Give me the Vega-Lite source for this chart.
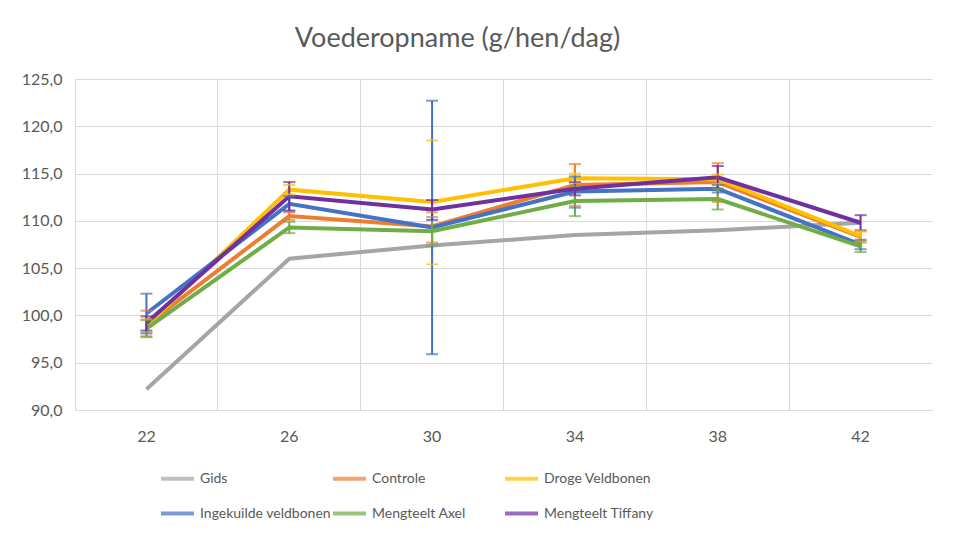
{
  "$schema": "https://vega.github.io/schema/vega-lite/v6.json",
  "width": 857,
  "height": 331,
  "autosize": "none",
  "padding": {"left": 75, "top": 79, "right": 24, "bottom": 131},
  "background": "white",
  "config": {
    "font": "Lato",
    "view": {"stroke": null},
    "axis": {"labelColor": "#595959", "labelFontSize": 16, "gridColor": "#D9D9D9", "domainColor": "#D9D9D9", "ticks": false}
  },
  "title": {
    "text": "Voederopname (g/hen/dag)",
    "fontSize": 27,
    "fontWeight": "normal",
    "color": "#595959",
    "frame": "group",
    "anchor": "middle",
    "dx": -46,
    "offset": 18
  },
  "data": {
    "values": [
      {"week": 22, "serie": "Gids", "v": 92.2},
      {"week": 26, "serie": "Gids", "v": 106.0},
      {"week": 30, "serie": "Gids", "v": 107.4},
      {"week": 34, "serie": "Gids", "v": 108.5},
      {"week": 38, "serie": "Gids", "v": 109.0},
      {"week": 42, "serie": "Gids", "v": 109.8},
      {"week": 22, "serie": "Controle", "v": 99.0, "lo": 97.8, "hi": 100.5},
      {"week": 26, "serie": "Controle", "v": 110.5, "lo": 110.1, "hi": 110.9},
      {"week": 30, "serie": "Controle", "v": 109.4, "lo": 107.7, "hi": 110.9},
      {"week": 34, "serie": "Controle", "v": 113.8, "lo": 111.6, "hi": 116.0},
      {"week": 38, "serie": "Controle", "v": 114.1, "lo": 112.0, "hi": 116.1},
      {"week": 42, "serie": "Controle", "v": 108.3, "lo": 107.7, "hi": 108.9},
      {"week": 22, "serie": "Droge Veldbonen", "v": 98.9, "lo": 98.2, "hi": 99.6},
      {"week": 26, "serie": "Droge Veldbonen", "v": 113.3, "lo": 112.8, "hi": 113.8},
      {"week": 30, "serie": "Droge Veldbonen", "v": 112.0, "lo": 105.4, "hi": 118.5},
      {"week": 34, "serie": "Droge Veldbonen", "v": 114.5, "lo": 114.0, "hi": 115.0},
      {"week": 38, "serie": "Droge Veldbonen", "v": 114.4, "lo": 113.9, "hi": 114.9},
      {"week": 42, "serie": "Droge Veldbonen", "v": 108.4, "lo": 107.9, "hi": 108.9},
      {"week": 22, "serie": "Ingekuilde veldbonen", "v": 100.2, "lo": 98.1, "hi": 102.3},
      {"week": 26, "serie": "Ingekuilde veldbonen", "v": 111.8, "lo": 111.0, "hi": 112.6},
      {"week": 30, "serie": "Ingekuilde veldbonen", "v": 109.3, "lo": 95.9, "hi": 122.7},
      {"week": 34, "serie": "Ingekuilde veldbonen", "v": 113.1, "lo": 111.4, "hi": 114.7},
      {"week": 38, "serie": "Ingekuilde veldbonen", "v": 113.4, "lo": 113.0, "hi": 113.8},
      {"week": 42, "serie": "Ingekuilde veldbonen", "v": 107.5, "lo": 107.0, "hi": 108.0},
      {"week": 22, "serie": "Mengteelt Axel", "v": 98.6, "lo": 97.7, "hi": 99.5},
      {"week": 26, "serie": "Mengteelt Axel", "v": 109.3, "lo": 108.7, "hi": 109.9},
      {"week": 30, "serie": "Mengteelt Axel", "v": 108.9, "lo": 107.4, "hi": 110.4},
      {"week": 34, "serie": "Mengteelt Axel", "v": 112.1, "lo": 110.5, "hi": 113.7},
      {"week": 38, "serie": "Mengteelt Axel", "v": 112.3, "lo": 111.2, "hi": 113.4},
      {"week": 42, "serie": "Mengteelt Axel", "v": 107.3, "lo": 106.7, "hi": 107.9},
      {"week": 22, "serie": "Mengteelt Tiffany", "v": 99.2, "lo": 98.4, "hi": 99.9},
      {"week": 26, "serie": "Mengteelt Tiffany", "v": 112.6, "lo": 111.1, "hi": 114.1},
      {"week": 30, "serie": "Mengteelt Tiffany", "v": 111.2, "lo": 110.1, "hi": 112.2},
      {"week": 34, "serie": "Mengteelt Tiffany", "v": 113.4, "lo": 112.7, "hi": 114.1},
      {"week": 38, "serie": "Mengteelt Tiffany", "v": 114.6, "lo": 113.4, "hi": 115.8},
      {"week": 42, "serie": "Mengteelt Tiffany", "v": 109.8, "lo": 109.0, "hi": 110.6}
    ]
  },
  "encoding": {
    "x": {
      "field": "week", "type": "ordinal", "title": null,
      "scale": {"paddingInner": 0, "paddingOuter": 0},
      "axis": {"labelAngle": 0, "labelPadding": 18, "grid": true, "bandPosition": 0, "domain": true}
    },
    "color": {
      "field": "serie", "type": "nominal", "title": null,
      "scale": {
        "domain": ["Gids", "Controle", "Droge Veldbonen", "Ingekuilde veldbonen", "Mengteelt Axel", "Mengteelt Tiffany"],
        "range": ["#A5A5A5", "#ED7D31", "#FFC000", "#4472C4", "#70AD47", "#7030A0"]
      },
      "legend": {
        "orient": "none", "legendX": 84, "legendY": 381,
        "direction": "horizontal", "columns": 3, "gridAlign": "all",
        "columnPadding": -6, "rowPadding": 8,
        "symbolType": "stroke", "symbolSize": 1089, "symbolStrokeWidth": 4,
        "labelFontSize": 14, "labelColor": "#595959", "labelOffset": 4, "labelLimit": 300
      }
    }
  },
  "layer": [
    {
      "mark": {"type": "line", "strokeWidth": 4},
      "encoding": {
        "y": {
          "field": "v", "type": "quantitative", "title": null,
          "scale": {"domain": [90, 125], "nice": false, "zero": false},
          "axis": {"values": [90, 95, 100, 105, 110, 115, 120, 125], "labelPadding": 13, "domain": false, "labelExpr": "replace(format(datum.value, '.1f'), '.', ',')"}
        }
      }
    },
    {
      "transform": [{"filter": "isValid(datum.lo)"}],
      "mark": {"type": "rule", "strokeWidth": 2},
      "encoding": {"y": {"field": "lo", "type": "quantitative"}, "y2": {"field": "hi"}}
    },
    {
      "transform": [{"filter": "isValid(datum.lo)"}],
      "mark": {"type": "tick", "size": 12, "thickness": 2},
      "encoding": {"y": {"field": "lo", "type": "quantitative"}}
    },
    {
      "transform": [{"filter": "isValid(datum.hi)"}],
      "mark": {"type": "tick", "size": 12, "thickness": 2},
      "encoding": {"y": {"field": "hi", "type": "quantitative"}}
    }
  ]
}
